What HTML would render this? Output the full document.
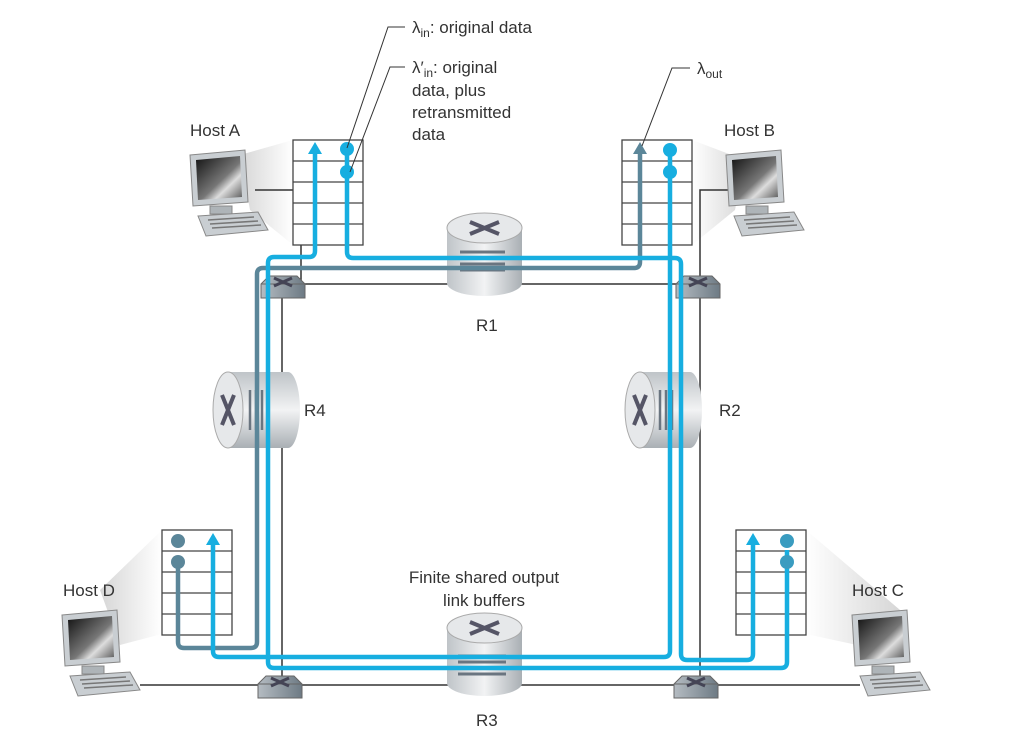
<!DOCTYPE html>
<html><head><meta charset="utf-8"><style>
html,body{margin:0;padding:0;background:#fff;}
svg{display:block;}
text{font-family:"Liberation Sans",sans-serif;fill:#333;}
</style></head><body>
<svg width="1014" height="736" viewBox="0 0 1014 736" xmlns="http://www.w3.org/2000/svg">
<defs>
<linearGradient id="cylV" x1="0" x2="1" y1="0" y2="0"><stop offset="0" stop-color="#bfc4c8"/><stop offset="0.5" stop-color="#f2f3f4"/><stop offset="1" stop-color="#a9afb4"/></linearGradient>
<linearGradient id="cylH" x1="0" x2="0" y1="0" y2="1"><stop offset="0" stop-color="#bfc4c8"/><stop offset="0.5" stop-color="#f2f3f4"/><stop offset="1" stop-color="#a9afb4"/></linearGradient>
<linearGradient id="scr" x1="0" x2="1" y1="0" y2="1"><stop offset="0" stop-color="#111"/><stop offset="0.55" stop-color="#777"/><stop offset="0.7" stop-color="#ddd"/><stop offset="1" stop-color="#555"/></linearGradient>
<linearGradient id="sw" x1="0" x2="1"><stop offset="0" stop-color="#b5bcc2"/><stop offset="1" stop-color="#6d7a84"/></linearGradient>
<linearGradient id="shade" x1="0" x2="1"><stop offset="0" stop-color="#fff"/><stop offset="1" stop-color="#ccc"/></linearGradient>
<linearGradient id="shadeR" x1="1" x2="0"><stop offset="0" stop-color="#fff"/><stop offset="1" stop-color="#ccc"/></linearGradient>
<g id="pc">
 <path d="M0 5 L55 0 L58 52 L3 56 Z" fill="#c9ced2" stroke="#888"/>
 <path d="M6 10 L50 6 L52 47 L8 50 Z" fill="url(#scr)"/>
 <rect x="20" y="56" width="22" height="8" fill="#aeb4b8" stroke="#888"/>
 <path d="M8 66 L68 62 L78 80 L16 86 Z" fill="#c9ced2" stroke="#888"/>
 <path d="M18 70 L64 67 M20 74 L68 71 M22 78 L71 75" stroke="#777" stroke-width="1.5"/>
</g>
<g id="buf">
 <rect x="0" y="0" width="70" height="105" fill="#fff" stroke="#444" stroke-width="1.3"/>
 <path d="M0 21H70M0 42H70M0 63H70M0 84H70" stroke="#444" stroke-width="1.3"/>
</g>
<g id="swt">
 <path d="M0 8 L8 0 L36 0 L44 8 L44 22 L0 22 Z" fill="url(#sw)" stroke="#666"/>
 <path d="M0 8 L44 8" stroke="#666"/>
 <path d="M13 2 L31 10 M31 2 L13 10" stroke="#445" stroke-width="3"/>
</g>
</defs>

<path d="M240 155 L293 140 L293 245 L250 210 Z" fill="url(#shadeR)" opacity="0.8"/>
<path d="M745 160 L692 140 L692 245 L735 210 Z" fill="url(#shade)" opacity="0.8"/>
<path d="M100 590 L162 530 L162 634 L120 645 Z" fill="url(#shadeR)" opacity="0.8"/>
<path d="M900 610 L806 530 L806 634 L880 650 Z" fill="url(#shade)" opacity="0.8"/>

<g stroke="#333" stroke-width="1.5" fill="none">
 <path d="M282 284 H700 V685 H282 Z"/>
 <path d="M255 190 H301 V284"/>
 <path d="M745 190 H700 V284"/>
 <path d="M140 685 H282"/>
 <path d="M700 685 H860"/>
</g>

<use href="#pc" x="190" y="150"/>
<use href="#pc" x="726" y="150"/>
<use href="#pc" x="62" y="610"/>
<use href="#pc" x="852" y="610"/>

<use href="#buf" x="293" y="140"/>
<use href="#buf" x="622" y="140"/>
<use href="#buf" x="162" y="530"/>
<use href="#buf" x="736" y="530"/>

<g>
 <rect x="447" y="228" width="75" height="55" fill="url(#cylV)"/>
 <ellipse cx="484.5" cy="283" rx="37.5" ry="13" fill="url(#cylV)"/>
 <ellipse cx="484.5" cy="228" rx="37.5" ry="15" fill="#e6e8ea" stroke="#aaa"/>
 <path d="M470 222 L499 234 M499 222 L470 234" stroke="#556" stroke-width="4"/>
 <path d="M460 252h45M460 258h45M460 264h45M460 270h45" stroke="#6a7580" stroke-width="3"/>
</g>
<g>
 <rect x="447" y="628" width="75" height="55" fill="url(#cylV)"/>
 <ellipse cx="484.5" cy="683" rx="37.5" ry="13" fill="url(#cylV)"/>
 <ellipse cx="484.5" cy="628" rx="37.5" ry="15" fill="#e6e8ea" stroke="#aaa"/>
 <path d="M470 622 L499 634 M499 622 L470 634" stroke="#556" stroke-width="4"/>
 <path d="M458 656h48M458 662h48M458 668h48M458 674h48" stroke="#6a7580" stroke-width="3"/>
</g>
<g>
 <rect x="228" y="372" width="60" height="76" fill="url(#cylH)"/>
 <ellipse cx="288" cy="410" rx="12" ry="38" fill="url(#cylH)"/>
 <ellipse cx="228" cy="410" rx="15" ry="38" fill="#e6e8ea" stroke="#aaa"/>
 <path d="M222 395 L234 425 M234 395 L222 425" stroke="#556" stroke-width="4"/>
 <path d="M250 390v40M256 390v40M262 390v40" stroke="#6a7580" stroke-width="2.5"/>
</g>
<g>
 <rect x="640" y="372" width="50" height="76" fill="url(#cylH)"/>
 <ellipse cx="690" cy="410" rx="12" ry="38" fill="url(#cylH)"/>
 <ellipse cx="640" cy="410" rx="15" ry="38" fill="#e6e8ea" stroke="#aaa"/>
 <path d="M634 395 L646 425 M646 395 L634 425" stroke="#556" stroke-width="4"/>
 <path d="M660 390v40M666 390v40M672 390v40" stroke="#6a7580" stroke-width="2.5"/>
</g>

<use href="#swt" x="261" y="276"/>
<use href="#swt" x="676" y="276"/>
<use href="#swt" x="258" y="676"/>
<use href="#swt" x="674" y="676"/>

<g fill="none" stroke-width="4.5" stroke-linejoin="round">
 <path d="M178 562 V642 Q178 648 184 648 H251 Q257 648 257 642 V274 Q257 268 263 268 H634 Q640 268 640 262 V152" stroke="#5b8699"/>
 <path d="M347 150 V252 Q347 258 353 258 H675 Q681 258 681 264 V654 Q681 660 687 660 H747 Q753 660 753 654 V545" stroke="#17aee0"/>
 <path d="M670 150 V651 Q670 657 664 657 H219 Q213 657 213 651 V545" stroke="#17aee0"/>
 <path d="M787 550 V662 Q787 668 781 668 H274 Q268 668 268 662 V263 Q268 257 274 257 H309 Q315 257 315 251 V152" stroke="#17aee0"/>
</g>
<path d="M315 142 L308 154 L322 154 Z" fill="#17aee0"/>
<path d="M640 142 L633 154 L647 154 Z" fill="#5b8699"/>
<path d="M213 533 L206 545 L220 545 Z" fill="#17aee0"/>
<path d="M753 533 L746 545 L760 545 Z" fill="#17aee0"/>
<g fill="#17aee0"><circle cx="347" cy="149" r="7"/><circle cx="347" cy="172" r="7"/><circle cx="670" cy="150" r="7"/><circle cx="670" cy="172" r="7"/></g>
<g fill="#5b8699"><circle cx="178" cy="541" r="7"/><circle cx="178" cy="562" r="7"/></g>
<g fill="#3a9cc0"><circle cx="787" cy="541" r="7"/><circle cx="787" cy="562" r="7"/></g>

<g stroke="#333" stroke-width="1" fill="none">
 <path d="M405 27 H388 L347 148"/>
 <path d="M405 67 H390 L350 172"/>
 <path d="M690 68 H672 L642 146"/>
</g>

<g font-size="17">
 <text x="412" y="33">λ<tspan font-size="12" dy="4">in</tspan><tspan dy="-4">: original data</tspan></text>
 <text x="412" y="73">λ′<tspan font-size="12" dy="4">in</tspan><tspan dy="-4">: original</tspan></text>
 <text x="412" y="96">data, plus</text>
 <text x="412" y="118">retransmitted</text>
 <text x="412" y="140">data</text>
 <text x="697" y="74">λ<tspan font-size="12" dy="4">out</tspan></text>
 <text x="190" y="136">Host A</text>
 <text x="724" y="136">Host B</text>
 <text x="63" y="596">Host D</text>
 <text x="852" y="596">Host C</text>
 <text x="476" y="331">R1</text>
 <text x="304" y="416">R4</text>
 <text x="719" y="416">R2</text>
 <text x="476" y="726">R3</text>
 <text x="484" y="583" text-anchor="middle">Finite shared output</text>
 <text x="484" y="606" text-anchor="middle">link buffers</text>
</g>
</svg>
</body></html>
